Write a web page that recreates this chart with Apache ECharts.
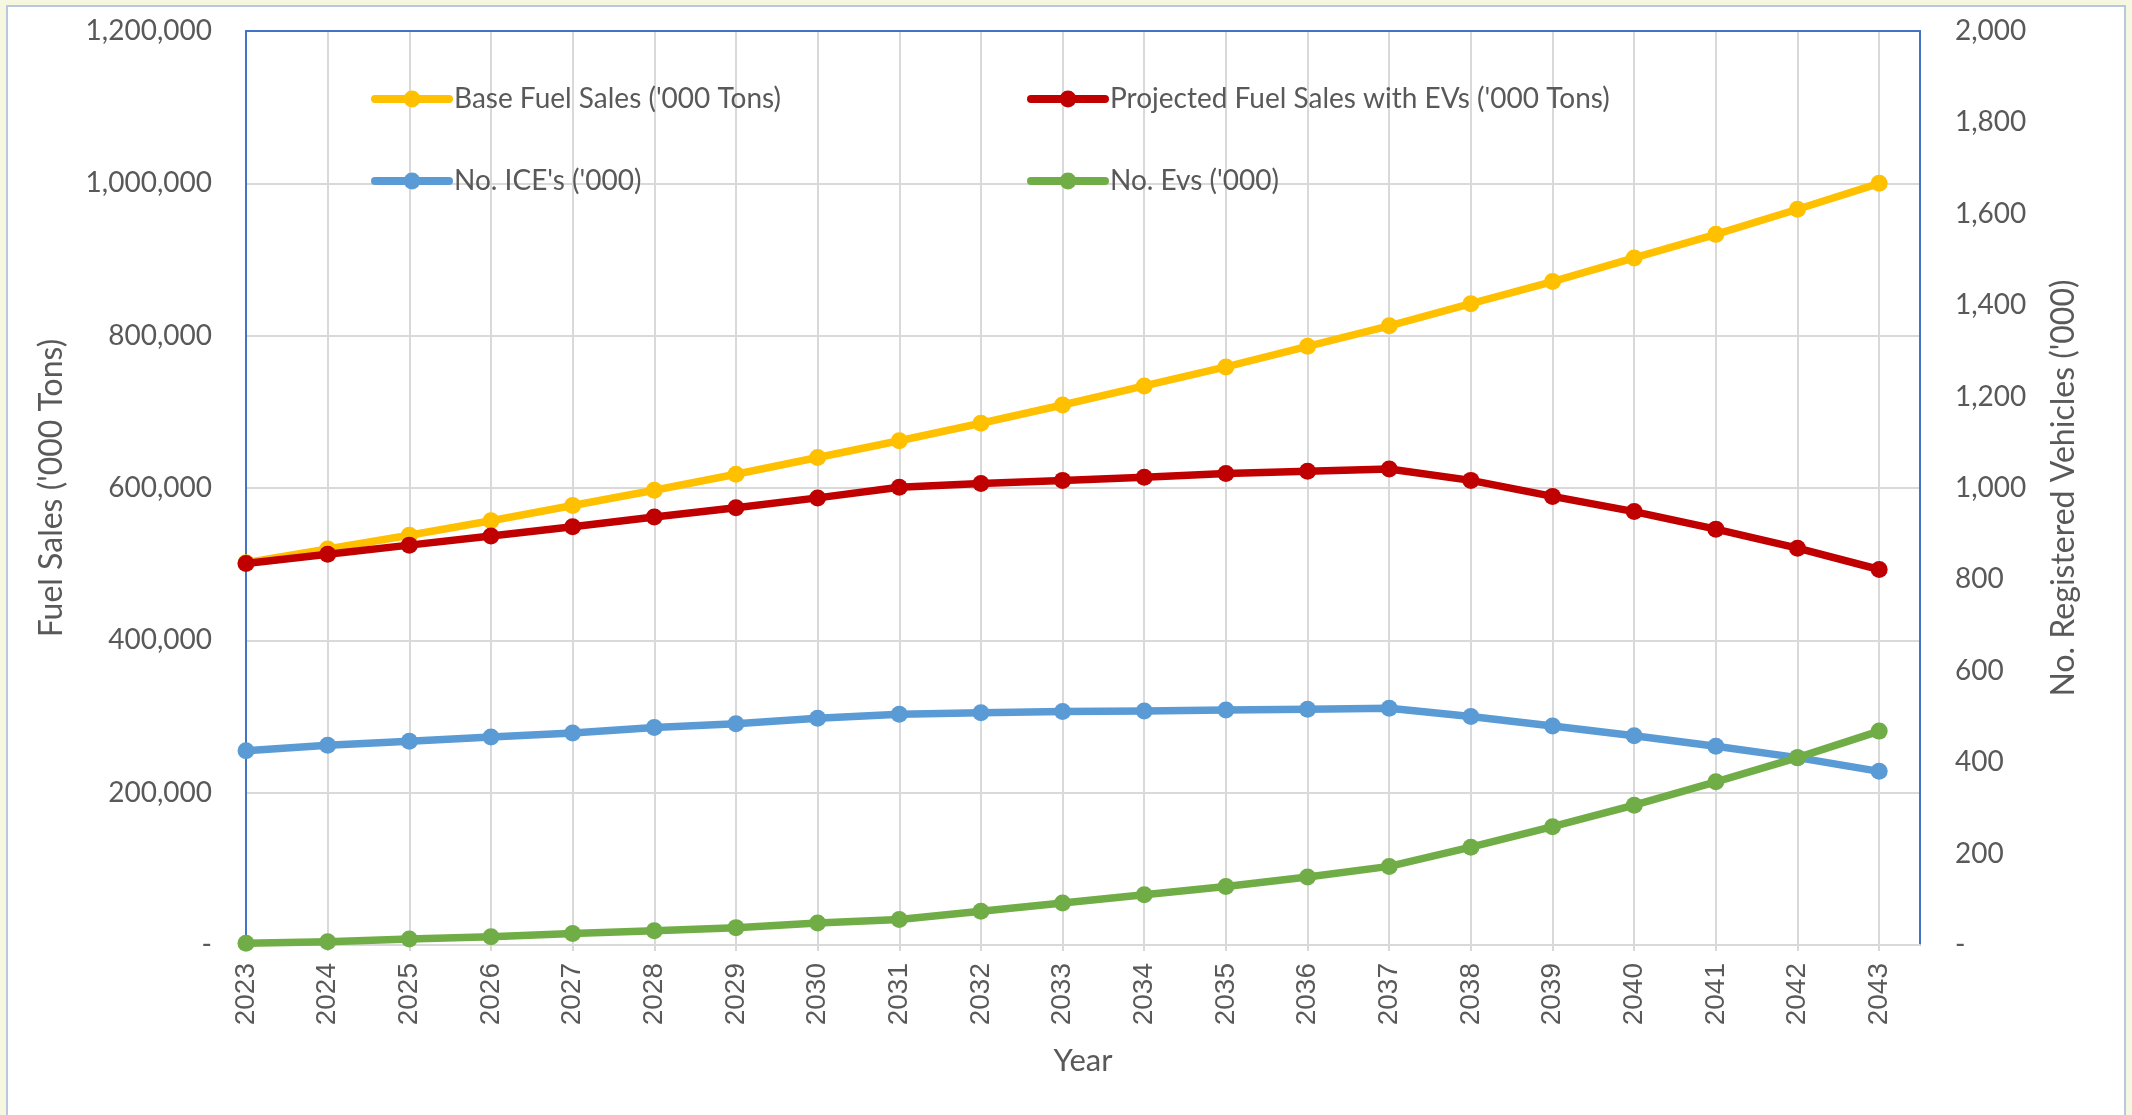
<!DOCTYPE html>
<html>
<head>
<meta charset="utf-8">
<title>Fuel Sales and Registered Vehicles Projection</title>
<script src="https://cdn.jsdelivr.net/npm/echarts@6/dist/echarts.min.js"></script>
<style>
  html, body { margin: 0; padding: 0; width: 2132px; height: 1115px; overflow: hidden; background: #F6F7E1; }
  #frame { position: absolute; left: 6px; top: 5px; width: 2120px; height: 1130px; background: #ffffff;
           border: 2px solid #B9C8DE; box-sizing: border-box; }
  #chart { position: absolute; left: 0; top: 0; width: 2132px; height: 1115px; }
</style>
</head>
<body>
<div id="frame"></div>
<div id="chart"></div>
<script>
// Projection years
const years = [2023, 2024, 2025, 2026, 2027, 2028, 2029, 2030, 2031, 2032, 2033,
               2034, 2035, 2036, 2037, 2038, 2039, 2040, 2041, 2042, 2043];

// Fuel sales ('000 tons) - left axis
const baseFuelSales = [502000, 520000, 538000, 557000, 577000, 597000, 618000, 640000, 662000, 685000, 709000,
                       734000, 759000, 786000, 813000, 842000, 871000, 902000, 933000, 966000, 1000000];
const projectedFuelSales = [501000, 513000, 525000, 537000, 549000, 562000, 574000, 587000, 601000, 606000, 610000,
                            614000, 619000, 622000, 625000, 610000, 589000, 569000, 546000, 521000, 493000];

// Registered vehicles ('000) - right axis
const iceVehicles = [425, 437, 446, 455, 464, 476, 484, 496, 505, 508, 511,
                     512, 514, 516, 518, 500, 479, 458, 435, 410, 380];
const evVehicles = [4, 7, 13, 18, 25, 31, 38, 48, 56, 74, 92,
                    110, 128, 149, 172, 214, 259, 306, 357, 410, 468];

// Axis ticks
const leftTicks = [0, 200000, 400000, 600000, 800000, 1000000, 1200000];
const rightTicks = [0, 200, 400, 600, 800, 1000, 1200, 1400, 1600, 1800, 2000];

const seriesNames = ["Base Fuel Sales ('000 Tons)", "Projected Fuel Sales with EVs ('000 Tons)",
                     "No. ICE's ('000)", "No. Evs ('000)"];
const seriesColors = ['#FFC000', '#C00000', '#5B9BD5', '#70AD47'];

const textColor = '#595959';
const gridColor = '#D9D9D9';
const frameBlue = '#4472C4';
const bodyFont = 'Lato, "Open Sans", sans-serif';
const yearFont = '"Liberation Sans", Arial, sans-serif';

const fmt = v => (v === 0 ? '-' : v.toLocaleString('en-US'));
const pairs = arr => years.map((y, i) => [y, arr[i]]);

const chart = echarts.init(document.getElementById('chart'), null, { renderer: 'canvas' });

function lineSeries(idx, data, yAxisIndex) {
  return {
    name: seriesNames[idx],
    type: 'line',
    xAxisIndex: 0,
    yAxisIndex: yAxisIndex,
    data: pairs(data),
    symbol: 'circle',
    symbolSize: 17,
    showSymbol: true,
    lineStyle: { width: 7.5, color: seriesColors[idx], cap: 'round', join: 'round' },
    itemStyle: { color: seriesColors[idx] },
    z: 3 + idx
  };
}

const legendText = { color: textColor, fontSize: 28, fontFamily: bodyFont, lineHeight: 30 };
const legendCommon = {
  orient: 'vertical', top: 79, itemGap: 52,
  itemWidth: 74, itemHeight: 21,
  textStyle: legendText,
  lineStyle: { width: 8, cap: 'round' }
};

chart.setOption({
  animation: false,
  backgroundColor: 'transparent',
  grid: { left: 246, right: 212, top: 31, bottom: 170, containLabel: false },
  legend: [
    Object.assign({ data: [seriesNames[0], seriesNames[2]], left: 366 }, legendCommon),
    Object.assign({ data: [seriesNames[1], seriesNames[3]], left: 1022 }, legendCommon)
  ],
  xAxis: [
    {
      type: 'value', position: 'bottom',
      min: years[0], max: years[years.length - 1] + 0.5, interval: 1,
      name: 'Year', nameLocation: 'middle', nameGap: 100,
      nameTextStyle: { color: textColor, fontSize: 31, fontFamily: bodyFont },
      axisLine: { show: true, onZero: false, lineStyle: { color: gridColor, width: 2 } },
      axisTick: { show: true, length: 6, customValues: years, lineStyle: { color: gridColor, width: 2 } },
      axisLabel: { rotate: 90, margin: 18, customValues: years, formatter: v => String(v),
                   fontSize: 28, fontFamily: yearFont, color: textColor },
      splitLine: { show: true, lineStyle: { color: gridColor, width: 2 } }
    },
    {
      type: 'value', position: 'top',
      min: years[0], max: years[years.length - 1] + 0.5,
      axisLine: { show: true, onZero: false, lineStyle: { color: frameBlue, width: 2 } },
      axisTick: { show: false }, axisLabel: { show: false }, splitLine: { show: false }
    }
  ],
  yAxis: [
    {
      type: 'value', position: 'left',
      min: leftTicks[0], max: leftTicks[leftTicks.length - 1], interval: leftTicks[1] - leftTicks[0],
      name: "Fuel Sales ('000 Tons)", nameLocation: 'middle', nameGap: 178, nameRotate: 90,
      nameTextStyle: { color: textColor, fontSize: 32, fontFamily: bodyFont },
      axisLine: { show: true, onZero: false, lineStyle: { color: frameBlue, width: 2 } },
      axisTick: { show: false },
      axisLabel: { margin: 34, formatter: fmt, fontSize: 28, fontFamily: bodyFont, color: textColor },
      splitLine: { show: true, lineStyle: { color: gridColor, width: 2 } }
    },
    {
      type: 'value', position: 'right',
      min: rightTicks[0], max: rightTicks[rightTicks.length - 1], interval: rightTicks[1] - rightTicks[0],
      name: "No. Registered Vehicles ('000)", nameLocation: 'middle', nameGap: 128, nameRotate: 90,
      nameTextStyle: { color: textColor, fontSize: 32, fontFamily: bodyFont },
      axisLine: { show: true, onZero: false, lineStyle: { color: frameBlue, width: 2 } },
      axisTick: { show: false },
      axisLabel: { margin: 35, formatter: fmt, fontSize: 28, fontFamily: bodyFont, color: textColor },
      splitLine: { show: false }
    }
  ],
  series: [
    lineSeries(0, baseFuelSales, 0),
    lineSeries(1, projectedFuelSales, 0),
    lineSeries(2, iceVehicles, 1),
    lineSeries(3, evVehicles, 1)
  ]
});
</script>
</body>
</html>
